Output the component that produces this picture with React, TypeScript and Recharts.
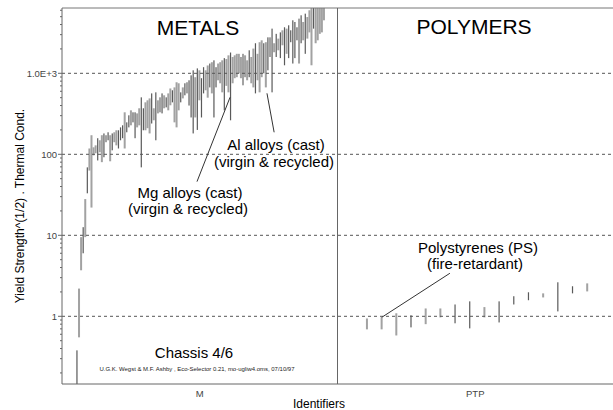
import React from 'react';
import { ComposedChart, Bar, XAxis, YAxis, ReferenceLine, Customized } from 'recharts';

const FONT = "'Liberation Sans', Arial, Helvetica, sans-serif";

// x categories (identifiers)
const CATEGORIES = ['M', 'PTP'];
const CATEGORY_CENTERS = [50, 150];
const CATEGORY_DIVIDER = 100;
const X_DOMAIN = [0, 200];

// y axis (log)
const Y_DOMAIN = [0.146, 6400];
const Y_MAJOR = [1, 10, 100, 1000];
const Y_MINOR = [
  0.2, 0.3, 0.4, 0.5, 0.6, 0.7, 0.8, 0.9,
  2, 3, 4, 5, 6, 7, 8, 9,
  20, 30, 40, 50, 60, 70, 80, 90,
  200, 300, 400, 500, 600, 700, 800, 900,
  2000, 3000, 4000, 5000, 6000,
];

// Metals: record ranges (high / low) of Yield Strength^(1/2) . Thermal Cond.
const METAL_HIGH = [
  0.38, 2.2, 9.5, 12.6, 28, 69, 118, 172, 122, 129,
  158, 149, 172, 181, 172, 187, 172, 181, 187, 198,
  198, 215, 228, 330, 248, 303, 349, 330, 330, 320,
  370, 505, 370, 438, 464, 490, 565, 370, 582, 464,
  505, 565, 535, 505, 565, 650, 617, 670, 775, 753,
  582, 670, 753, 775, 820, 944, 1089, 895, 1150, 1089,
  870, 1190, 1089, 1250, 1320, 1370, 1446, 1190, 1320, 1370,
  1446, 1540, 1500, 1667, 1805, 1590, 1667, 1740, 1740, 1590,
  1740, 1667, 1446, 1923, 1590, 2020, 2350, 1740, 2420, 2555,
  2350, 2420, 2780, 2780, 3560, 2350, 3070, 2680, 3200, 3395,
  3700, 3560, 3915, 3395, 4510, 4300, 3700, 4730, 5200, 4300,
  5450, 4950, 6000, 7000, 7000, 7000, 7000, 7000, 7000, 7000,
];
const METAL_LOW = [
  0.1, 0.55, 3.7, 6.0, 9.5, 33, 63, 22, 97, 103,
  84, 106, 80, 92, 141, 149, 82, 112, 141, 129,
  118, 149, 158, 118, 187, 215, 228, 248, 158, 215,
  228, 69, 198, 198, 210, 181, 240, 263, 149, 320,
  330, 320, 370, 380, 349, 403, 438, 248, 215, 349,
  438, 490, 535, 565, 400, 285, 181, 285, 200, 464,
  285, 565, 617, 500, 670, 565, 285, 670, 820, 753,
  582, 349, 700, 582, 263, 753, 870, 895, 1000, 870,
  711, 895, 820, 895, 753, 670, 565, 820, 582, 895,
  1000, 670, 1089, 1590, 582, 1820, 1590, 1923, 1540, 2218,
  1256, 1740, 1540, 2420, 1320, 1540, 2555, 1320, 2350, 2555,
  1740, 2680, 3200, 1256, 3560, 2350, 2555, 3070, 3200, 4510,
];
const METAL_GROUP = (
  'DLLDLDLLLL' + 'DLLDLDLDLL' + 'DDDLDDLDDL' + 'LDDLLLDLDL' +
  'LDLDLLDLLL' + 'DLDLDDDLDL' + 'DDLLDLDDLL' + 'LDLLDLLLLL' +
  'LLLDLLDLLL' + 'DLDLDLDLDL' + 'DLDDDDDLDL' + 'DLLLDLLLLL'
).split('');

// Polymers (PTP)
const POLY_HIGH = [0.94, 0.97, 1.09, 1.03, 1.25, 1.25, 1.4, 1.53, 1.3, 1.53, 1.77, 1.98, 1.92, 2.63, 2.35, 2.55];
const POLY_LOW = [0.69, 0.69, 0.58, 0.73, 0.8, 0.97, 0.82, 0.71, 0.97, 0.84, 1.4, 1.58, 1.71, 1.15, 1.92, 2.03];
const POLY_GROUP = 'LLLDLLDDLDDDLDDL'.split('');

// record placement along the identifier axis
const METAL_X0 = 5.44;
const METAL_DX = 0.7534;
const POLY_X0 = 110.7;
const POLY_DX = 5.33;

const rows = [
  ...METAL_HIGH.map((hi, i) => ({ x: METAL_X0 + i * METAL_DX, range: [METAL_LOW[i], hi], group: METAL_GROUP[i] })),
  ...POLY_HIGH.map((hi, i) => ({ x: POLY_X0 + i * POLY_DX, range: [POLY_LOW[i], hi], group: POLY_GROUP[i] })),
];

// annotation pointers (data coordinates)
const MG_POINTER = [{ x: 61.0, y: 506 }, { x: 49.0, y: 46 }];
const AL_POINTER = [{ x: 74.4, y: 566 }, { x: 77.0, y: 187 }];
const PS_POINTER = [{ x: POLY_X0 + POLY_DX, y: POLY_HIGH[1] }, { x: 140.8, y: 3.4 }];

const fmtY = (v: number) => (v === 1000 ? '1.0E+3' : String(v));

const RangeShape = (p: any) => {
  const g = p.payload?.group ?? p.group;
  const light = g === 'L';
  const w = light ? 2 : 1.2;
  const cx = p.x + p.width / 2;
  const y = Math.min(p.y, p.y + p.height);
  const h = Math.abs(p.height);
  if (!isFinite(y) || !isFinite(h)) return null;
  return <rect x={cx - w / 2} y={y} width={w} height={h} fill={light ? '#a2a2a2' : '#5a5a5a'} />;
};

const YTick = (p: any) => {
  const v = p.payload.value;
  const major = Y_MAJOR.includes(v);
  const ax = p.x + 5;
  return (
    <g>
      <line x1={ax - (major ? 4 : 2)} x2={ax} y1={p.y} y2={p.y} stroke="#666" strokeWidth={1} />
      {major && (
        <text x={p.x} y={p.y} textAnchor="end" dominantBaseline="central" fontSize={9.5} fill="#444" fontFamily={FONT}>
          {fmtY(v)}
        </text>
      )}
    </g>
  );
};

const Texts = () => (
  <g fontFamily={FONT} fill="#000">
    <text x={198} y={35} textAnchor="middle" fontSize={21}>METALS</text>
    <text x={474} y={34} textAnchor="middle" fontSize={21}>POLYMERS</text>
    <text x={276} y={150} textAnchor="middle" fontSize={15}>Al alloys (cast)</text>
    <text x={274} y={167} textAnchor="middle" fontSize={15}>(virgin &amp; recycled)</text>
    <text x={190} y={198} textAnchor="middle" fontSize={15}>Mg alloys (cast)</text>
    <text x={188} y={214} textAnchor="middle" fontSize={15}>(virgin &amp; recycled)</text>
    <text x={478} y={253} textAnchor="middle" fontSize={15}>Polystyrenes (PS)</text>
    <text x={475} y={269} textAnchor="middle" fontSize={15}>(fire-retardant)</text>
    <text x={194} y={358} textAnchor="middle" fontSize={15}>Chassis 4/6</text>
    <text x={197} y={371} textAnchor="middle" fontSize={5.5} textLength={195} lengthAdjust="spacingAndGlyphs" fill="#222">
      U.G.K. Wegst &amp; M.F. Ashby , Eco-Selector 0.21, mo-ugliw4.oms, 07/10/97
    </text>
    <text x={319} y={408} textAnchor="middle" fontSize={12}>Identifiers</text>
    <text x={24} y={206} textAnchor="middle" fontSize={12} transform="rotate(-90 24 206)">
      Yield Strength^(1/2) . Thermal Cond.
    </text>
  </g>
);

export default function App() {
  return (
    <div style={{ position: 'absolute', left: 0, top: 0, width: 613, height: 410, background: '#fff' }}>
      <ComposedChart width={613} height={410} data={rows} margin={{ top: 8, right: 0, bottom: 0, left: 0 }}>
        <XAxis
          type="number"
          dataKey="x"
          domain={X_DOMAIN}
          ticks={CATEGORY_CENTERS}
          interval={0}
          tickFormatter={(v: number) => CATEGORIES[CATEGORY_CENTERS.indexOf(v)] ?? ''}
          height={26}
          tickLine={false}
          tickSize={4}
          tickMargin={2}
          axisLine={{ stroke: '#666' }}
          tick={{ fontSize: 9.5, fill: '#444', fontFamily: FONT }}
          allowDataOverflow
        />
        <YAxis
          type="number"
          scale="log"
          domain={Y_DOMAIN}
          allowDataOverflow
          ticks={[...Y_MAJOR, ...Y_MINOR]}
          interval={0}
          width={62}
          tickLine={false}
          tickSize={3}
          tickMargin={2}
          axisLine={{ stroke: '#666' }}
          tick={<YTick />}
        />
        {Y_MAJOR.map((v) => (
          <ReferenceLine key={v} y={v} stroke="#555" strokeDasharray="3 3" />
        ))}
        <ReferenceLine y={Y_DOMAIN[1]} stroke="#777" />
        <ReferenceLine x={CATEGORY_DIVIDER} stroke="#666" />
        <Bar dataKey="range" barSize={2} isAnimationActive={false} shape={<RangeShape />} />
        <ReferenceLine segment={MG_POINTER} stroke="#333" />
        <ReferenceLine segment={AL_POINTER} stroke="#333" />
        <ReferenceLine segment={PS_POINTER} stroke="#333" />
        <Customized component={<Texts />} />
      </ComposedChart>
    </div>
  );
}
